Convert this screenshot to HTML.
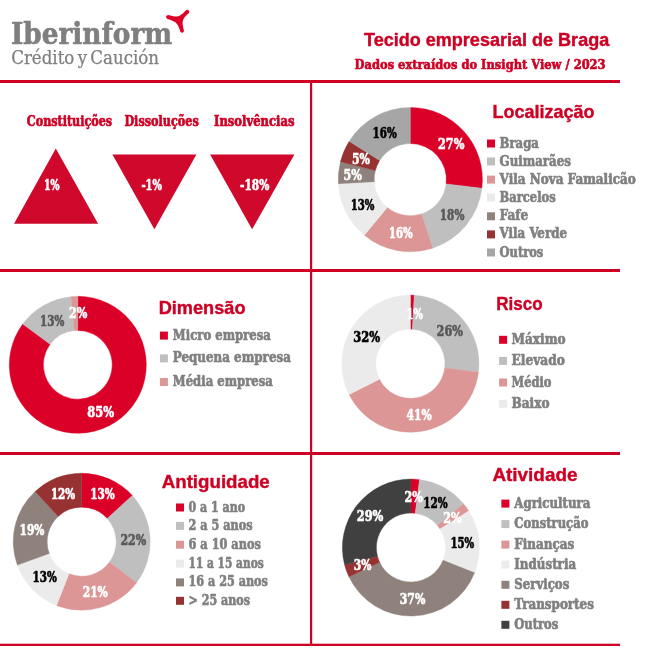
<!DOCTYPE html>
<html lang="pt"><head><meta charset="utf-8"><title>Tecido empresarial de Braga</title>
<style>html,body{margin:0;padding:0;background:#fff}svg{display:block}text{white-space:pre}</style></head>
<body><svg width="645" height="658" viewBox="0 0 645 658">
<rect width="645" height="658" fill="#fff"/>
<rect x="0" y="80" width="620" height="3" fill="#ce0024"/>
<rect x="0" y="269" width="620" height="3" fill="#ce0024"/>
<rect x="0" y="452" width="620" height="3" fill="#ce0024"/>
<rect x="0" y="643.7" width="620" height="2.3" fill="#ce0024"/>
<rect x="310" y="80" width="2.2" height="565" fill="#ce0024"/>
<text x="10.9" y="44.2" font-family="'DejaVu Serif Condensed', 'DejaVu Serif', 'Liberation Serif', serif" font-weight="700" font-size="30" fill="#7f7f7f" textLength="161.3" lengthAdjust="spacingAndGlyphs" stroke="#7f7f7f" stroke-width="0.6" stroke-linejoin="round">Iberinform</text>
<text x="11.2" y="64.4" font-family="'DejaVu Serif Condensed', 'DejaVu Serif', 'Liberation Serif', serif" font-weight="400" font-size="18.6" fill="#7f7f7f" textLength="147.9" lengthAdjust="spacingAndGlyphs" word-spacing="-2" stroke="#7f7f7f" stroke-width="0.25" stroke-linejoin="round">Crédito y Caución</text>
<path d="M185.81 10.46C185.31 10.95 183.83 12.61 182.83 13.43C181.84 14.26 180.85 14.90 179.86 15.42C178.87 15.93 177.96 16.38 176.88 16.51C175.81 16.63 174.86 16.43 173.41 16.16C171.96 15.90 169.07 15.13 168.20 14.92A2.05 2.05 0 0 0 167.46 18.89C168.20 19.14 170.60 19.80 171.92 20.38C173.24 20.96 174.40 21.53 175.39 22.36C176.38 23.19 177.21 24.26 177.87 25.34C178.53 26.41 178.96 27.78 179.36 28.81C179.76 29.84 180.11 31.08 180.25 31.54A1.95 1.95 0 0 0 183.97 30.79C183.83 30.13 183.31 28.07 183.08 26.83C182.85 25.59 182.59 24.51 182.59 23.35C182.59 22.20 182.71 20.96 183.08 19.88C183.45 18.81 184.11 17.81 184.82 16.90C185.52 16.00 186.59 15.09 187.30 14.42C188.00 13.76 188.74 13.18 189.03 12.94A2.05 2.05 0 0 0 185.81 10.46Z" fill="#df0029"/>
<text x="364.0" y="45.6" font-family="'Liberation Sans', sans-serif" font-weight="700" font-size="18.3" fill="#ce0024" textLength="245.2" lengthAdjust="spacingAndGlyphs" stroke="#ce0024" stroke-width="0.4" stroke-linejoin="round">Tecido empresarial de Braga</text>
<text x="354.6" y="68.8" font-family="'DejaVu Serif Condensed', 'DejaVu Serif', 'Liberation Serif', serif" font-weight="700" font-size="13.6" fill="#ce0024" textLength="251.0" lengthAdjust="spacingAndGlyphs" stroke="#ce0024" stroke-width="0.6" stroke-linejoin="round">Dados extraídos do Insight View / 2023</text>
<text x="26.8" y="125.5" font-family="'DejaVu Serif Condensed', 'DejaVu Serif', 'Liberation Serif', serif" font-weight="700" font-size="14" fill="#ce0024" textLength="85.3" lengthAdjust="spacingAndGlyphs" stroke="#ce0024" stroke-width="0.6" stroke-linejoin="round">Constituições</text>
<text x="124.4" y="125.5" font-family="'DejaVu Serif Condensed', 'DejaVu Serif', 'Liberation Serif', serif" font-weight="700" font-size="14" fill="#ce0024" textLength="74.3" lengthAdjust="spacingAndGlyphs" stroke="#ce0024" stroke-width="0.6" stroke-linejoin="round">Dissoluções</text>
<text x="214.0" y="125.5" font-family="'DejaVu Serif Condensed', 'DejaVu Serif', 'Liberation Serif', serif" font-weight="700" font-size="14" fill="#ce0024" textLength="80.4" lengthAdjust="spacingAndGlyphs" stroke="#ce0024" stroke-width="0.6" stroke-linejoin="round">Insolvências</text>
<path d="M55.8 148.4L98.1 223.8L14.0 223.8Z" fill="#cf082c"/>
<path d="M112.4 154.4L196.4 154.4L154.4 229.3Z" fill="#cf082c"/>
<path d="M210.1 154.4L294.4 154.4L252.1 229.3Z" fill="#cf082c"/>
<text x="43.9" y="189.7" font-family="'DejaVu Serif Condensed', 'DejaVu Serif', 'Liberation Serif', serif" font-weight="700" font-size="14.2" fill="#fff" textLength="15.6" lengthAdjust="spacingAndGlyphs" stroke="#fff" stroke-width="0.6" stroke-linejoin="round">1%</text>
<text x="141.4" y="189.6" font-family="'DejaVu Serif Condensed', 'DejaVu Serif', 'Liberation Serif', serif" font-weight="700" font-size="14.2" fill="#fff" textLength="20.5" lengthAdjust="spacingAndGlyphs" stroke="#fff" stroke-width="0.6" stroke-linejoin="round">-1%</text>
<text x="240.0" y="189.6" font-family="'DejaVu Serif Condensed', 'DejaVu Serif', 'Liberation Serif', serif" font-weight="700" font-size="14.2" fill="#fff" textLength="29.3" lengthAdjust="spacingAndGlyphs" stroke="#fff" stroke-width="0.6" stroke-linejoin="round">-18%</text>
<path d="M410.30 107.50A72.1 72.1 0 0 1 481.89 188.19L446.14 183.90A36.1 36.1 0 0 0 410.30 143.50Z" fill="#da0028" stroke="#da0028" stroke-width="0.4"/>
<path d="M481.89 188.19A72.1 72.1 0 0 1 432.58 248.17L421.46 213.93A36.1 36.1 0 0 0 446.14 183.90Z" fill="#bfbfbf" stroke="#bfbfbf" stroke-width="0.4"/>
<path d="M432.58 248.17A72.1 72.1 0 0 1 364.34 235.15L387.29 207.42A36.1 36.1 0 0 0 421.46 213.93Z" fill="#dc9696" stroke="#dc9696" stroke-width="0.4"/>
<path d="M364.34 235.15A72.1 72.1 0 0 1 338.32 183.67L374.26 181.64A36.1 36.1 0 0 0 387.29 207.42Z" fill="#ebebeb" stroke="#ebebeb" stroke-width="0.4"/>
<path d="M338.32 183.67A72.1 72.1 0 0 1 340.47 161.67L375.33 170.62A36.1 36.1 0 0 0 374.26 181.64Z" fill="#8f817b" stroke="#8f817b" stroke-width="0.4"/>
<path d="M340.47 161.67A72.1 72.1 0 0 1 349.18 141.35L379.70 160.45A36.1 36.1 0 0 0 375.33 170.62Z" fill="#963232" stroke="#963232" stroke-width="0.4"/>
<path d="M349.18 141.35A72.1 72.1 0 0 1 410.30 107.50L410.30 143.50A36.1 36.1 0 0 0 379.70 160.45Z" fill="#a6a6a6" stroke="#a6a6a6" stroke-width="0.4"/>
<text x="438.0" y="148.5" font-family="'DejaVu Serif Condensed', 'DejaVu Serif', 'Liberation Serif', serif" font-weight="700" font-size="14.2" fill="#fff" textLength="26.4" lengthAdjust="spacingAndGlyphs" stroke="#fff" stroke-width="0.6" stroke-linejoin="round">27%</text>
<text x="439.8" y="219.8" font-family="'DejaVu Serif Condensed', 'DejaVu Serif', 'Liberation Serif', serif" font-weight="700" font-size="14.2" fill="#595959" textLength="24.6" lengthAdjust="spacingAndGlyphs" stroke="#595959" stroke-width="0.6" stroke-linejoin="round">18%</text>
<text x="388.9" y="237.9" font-family="'DejaVu Serif Condensed', 'DejaVu Serif', 'Liberation Serif', serif" font-weight="700" font-size="14.2" fill="#fff" textLength="23.8" lengthAdjust="spacingAndGlyphs" stroke="#fff" stroke-width="0.6" stroke-linejoin="round">16%</text>
<text x="350.7" y="209.5" font-family="'DejaVu Serif Condensed', 'DejaVu Serif', 'Liberation Serif', serif" font-weight="700" font-size="14.2" fill="#000" textLength="23.7" lengthAdjust="spacingAndGlyphs" stroke="#000" stroke-width="0.6" stroke-linejoin="round">13%</text>
<text x="343.4" y="179.8" font-family="'DejaVu Serif Condensed', 'DejaVu Serif', 'Liberation Serif', serif" font-weight="700" font-size="14.2" fill="#fff" textLength="18.4" lengthAdjust="spacingAndGlyphs" stroke="#fff" stroke-width="0.6" stroke-linejoin="round">5%</text>
<text x="352.0" y="163.7" font-family="'DejaVu Serif Condensed', 'DejaVu Serif', 'Liberation Serif', serif" font-weight="700" font-size="14.2" fill="#fff" textLength="18.0" lengthAdjust="spacingAndGlyphs" stroke="#fff" stroke-width="0.6" stroke-linejoin="round">5%</text>
<text x="372.6" y="137.6" font-family="'DejaVu Serif Condensed', 'DejaVu Serif', 'Liberation Serif', serif" font-weight="700" font-size="14.2" fill="#000" textLength="24.1" lengthAdjust="spacingAndGlyphs" stroke="#000" stroke-width="0.6" stroke-linejoin="round">16%</text>
<text x="492.4" y="117.5" font-family="'Liberation Sans', sans-serif" font-weight="700" font-size="19" fill="#ce0024" textLength="102.1" lengthAdjust="spacingAndGlyphs" stroke="#ce0024" stroke-width="0.4" stroke-linejoin="round">Localização</text>
<rect x="487.0" y="139.5" width="8" height="8" fill="#da0028"/>
<text x="499.6" y="147.5" font-family="'DejaVu Serif Condensed', 'DejaVu Serif', 'Liberation Serif', serif" font-weight="700" font-size="13.9" fill="#808080" textLength="39.3" lengthAdjust="spacingAndGlyphs" stroke="#808080" stroke-width="0.6" stroke-linejoin="round">Braga</text>
<rect x="487.0" y="157.5" width="8" height="8" fill="#bfbfbf"/>
<text x="499.6" y="165.5" font-family="'DejaVu Serif Condensed', 'DejaVu Serif', 'Liberation Serif', serif" font-weight="700" font-size="13.9" fill="#808080" textLength="71.3" lengthAdjust="spacingAndGlyphs" stroke="#808080" stroke-width="0.6" stroke-linejoin="round">Guimarães</text>
<rect x="487.0" y="175.6" width="8" height="8" fill="#dc9696"/>
<text x="499.6" y="183.6" font-family="'DejaVu Serif Condensed', 'DejaVu Serif', 'Liberation Serif', serif" font-weight="700" font-size="13.9" fill="#808080" textLength="136.2" lengthAdjust="spacingAndGlyphs" stroke="#808080" stroke-width="0.6" stroke-linejoin="round">Vila Nova Famalicão</text>
<rect x="487.0" y="193.5" width="8" height="8" fill="#ebebeb"/>
<text x="499.6" y="201.5" font-family="'DejaVu Serif Condensed', 'DejaVu Serif', 'Liberation Serif', serif" font-weight="700" font-size="13.9" fill="#808080" textLength="56.1" lengthAdjust="spacingAndGlyphs" stroke="#808080" stroke-width="0.6" stroke-linejoin="round">Barcelos</text>
<rect x="487.0" y="212.3" width="8" height="8" fill="#8f817b"/>
<text x="499.6" y="220.3" font-family="'DejaVu Serif Condensed', 'DejaVu Serif', 'Liberation Serif', serif" font-weight="700" font-size="13.9" fill="#808080" textLength="28.7" lengthAdjust="spacingAndGlyphs" stroke="#808080" stroke-width="0.6" stroke-linejoin="round">Fafe</text>
<rect x="487.0" y="230.4" width="8" height="8" fill="#963232"/>
<text x="499.6" y="238.4" font-family="'DejaVu Serif Condensed', 'DejaVu Serif', 'Liberation Serif', serif" font-weight="700" font-size="13.9" fill="#808080" textLength="67.4" lengthAdjust="spacingAndGlyphs" stroke="#808080" stroke-width="0.6" stroke-linejoin="round">Vila Verde</text>
<rect x="487.0" y="248.5" width="8" height="8" fill="#a6a6a6"/>
<text x="499.6" y="256.5" font-family="'DejaVu Serif Condensed', 'DejaVu Serif', 'Liberation Serif', serif" font-weight="700" font-size="13.9" fill="#808080" textLength="43.7" lengthAdjust="spacingAndGlyphs" stroke="#808080" stroke-width="0.6" stroke-linejoin="round">Outros</text>
<path d="M77.80 296.30A68.5 68.5 0 1 1 22.74 324.05L50.15 344.34A34.4 34.4 0 1 0 77.80 330.40Z" fill="#da0028" stroke="#da0028" stroke-width="0.4"/>
<path d="M22.74 324.05A68.5 68.5 0 0 1 71.10 296.63L74.43 330.57A34.4 34.4 0 0 0 50.15 344.34Z" fill="#bfbfbf" stroke="#bfbfbf" stroke-width="0.4"/>
<path d="M71.10 296.63A68.5 68.5 0 0 1 77.80 296.30L77.80 330.40A34.4 34.4 0 0 0 74.43 330.57Z" fill="#dc9696" stroke="#dc9696" stroke-width="0.4"/>
<text x="87.3" y="416.7" font-family="'DejaVu Serif Condensed', 'DejaVu Serif', 'Liberation Serif', serif" font-weight="700" font-size="14.2" fill="#fff" textLength="26.8" lengthAdjust="spacingAndGlyphs" stroke="#fff" stroke-width="0.6" stroke-linejoin="round">85%</text>
<text x="40.1" y="325.6" font-family="'DejaVu Serif Condensed', 'DejaVu Serif', 'Liberation Serif', serif" font-weight="700" font-size="14.2" fill="#595959" textLength="24.3" lengthAdjust="spacingAndGlyphs" stroke="#595959" stroke-width="0.6" stroke-linejoin="round">13%</text>
<text x="69.0" y="317.6" font-family="'DejaVu Serif Condensed', 'DejaVu Serif', 'Liberation Serif', serif" font-weight="700" font-size="14.2" fill="#fff" textLength="18.3" lengthAdjust="spacingAndGlyphs" stroke="#fff" stroke-width="0.6" stroke-linejoin="round">2%</text>
<text x="158.7" y="314.3" font-family="'Liberation Sans', sans-serif" font-weight="700" font-size="19" fill="#ce0024" textLength="86.8" lengthAdjust="spacingAndGlyphs" stroke="#ce0024" stroke-width="0.4" stroke-linejoin="round">Dimensão</text>
<rect x="159.9" y="331.6" width="8" height="8" fill="#da0028"/>
<text x="172.8" y="339.6" font-family="'DejaVu Serif Condensed', 'DejaVu Serif', 'Liberation Serif', serif" font-weight="700" font-size="13.9" fill="#808080" textLength="98.0" lengthAdjust="spacingAndGlyphs" stroke="#808080" stroke-width="0.6" stroke-linejoin="round">Micro empresa</text>
<rect x="159.9" y="354.4" width="8" height="8" fill="#bfbfbf"/>
<text x="172.8" y="362.4" font-family="'DejaVu Serif Condensed', 'DejaVu Serif', 'Liberation Serif', serif" font-weight="700" font-size="13.9" fill="#808080" textLength="118.1" lengthAdjust="spacingAndGlyphs" stroke="#808080" stroke-width="0.6" stroke-linejoin="round">Pequena empresa</text>
<rect x="159.9" y="378.0" width="8" height="8" fill="#dc9696"/>
<text x="172.8" y="386.0" font-family="'DejaVu Serif Condensed', 'DejaVu Serif', 'Liberation Serif', serif" font-weight="700" font-size="13.9" fill="#808080" textLength="100.0" lengthAdjust="spacingAndGlyphs" stroke="#808080" stroke-width="0.6" stroke-linejoin="round">Média empresa</text>
<path d="M410.40 295.10A68.6 68.6 0 0 1 414.28 295.21L412.36 329.16A34.6 34.6 0 0 0 410.40 329.10Z" fill="#da0028" stroke="#da0028" stroke-width="0.4"/>
<path d="M414.28 295.21A68.6 68.6 0 0 1 478.46 372.30L444.73 368.04A34.6 34.6 0 0 0 412.36 329.16Z" fill="#bfbfbf" stroke="#bfbfbf" stroke-width="0.4"/>
<path d="M478.46 372.30A68.6 68.6 0 0 1 349.08 394.46L379.47 379.21A34.6 34.6 0 0 0 444.73 368.04Z" fill="#dc9696" stroke="#dc9696" stroke-width="0.4"/>
<path d="M349.08 394.46A68.6 68.6 0 0 1 410.40 295.10L410.40 329.10A34.6 34.6 0 0 0 379.47 379.21Z" fill="#ebebeb" stroke="#ebebeb" stroke-width="0.4"/>
<text x="406.5" y="318.9" font-family="'DejaVu Serif Condensed', 'DejaVu Serif', 'Liberation Serif', serif" font-weight="700" font-size="14.2" fill="#fff" textLength="16.3" lengthAdjust="spacingAndGlyphs" stroke="#fff" stroke-width="0.6" stroke-linejoin="round">1%</text>
<text x="436.6" y="335.7" font-family="'DejaVu Serif Condensed', 'DejaVu Serif', 'Liberation Serif', serif" font-weight="700" font-size="14.2" fill="#595959" textLength="26.3" lengthAdjust="spacingAndGlyphs" stroke="#595959" stroke-width="0.6" stroke-linejoin="round">26%</text>
<text x="406.5" y="419.7" font-family="'DejaVu Serif Condensed', 'DejaVu Serif', 'Liberation Serif', serif" font-weight="700" font-size="14.2" fill="#fff" textLength="25.1" lengthAdjust="spacingAndGlyphs" stroke="#fff" stroke-width="0.6" stroke-linejoin="round">41%</text>
<text x="353.3" y="341.7" font-family="'DejaVu Serif Condensed', 'DejaVu Serif', 'Liberation Serif', serif" font-weight="700" font-size="14.2" fill="#000" textLength="26.9" lengthAdjust="spacingAndGlyphs" stroke="#000" stroke-width="0.6" stroke-linejoin="round">32%</text>
<text x="496.2" y="310.3" font-family="'Liberation Sans', sans-serif" font-weight="700" font-size="19" fill="#ce0024" textLength="46.4" lengthAdjust="spacingAndGlyphs" stroke="#ce0024" stroke-width="0.4" stroke-linejoin="round">Risco</text>
<rect x="499.1" y="335.8" width="8" height="8" fill="#da0028"/>
<text x="511.5" y="343.8" font-family="'DejaVu Serif Condensed', 'DejaVu Serif', 'Liberation Serif', serif" font-weight="700" font-size="13.9" fill="#808080" textLength="54.1" lengthAdjust="spacingAndGlyphs" stroke="#808080" stroke-width="0.6" stroke-linejoin="round">Máximo</text>
<rect x="499.1" y="356.9" width="8" height="8" fill="#bfbfbf"/>
<text x="511.5" y="364.9" font-family="'DejaVu Serif Condensed', 'DejaVu Serif', 'Liberation Serif', serif" font-weight="700" font-size="13.9" fill="#808080" textLength="53.3" lengthAdjust="spacingAndGlyphs" stroke="#808080" stroke-width="0.6" stroke-linejoin="round">Elevado</text>
<rect x="499.1" y="378.5" width="8" height="8" fill="#dc9696"/>
<text x="511.5" y="386.5" font-family="'DejaVu Serif Condensed', 'DejaVu Serif', 'Liberation Serif', serif" font-weight="700" font-size="13.9" fill="#808080" textLength="39.9" lengthAdjust="spacingAndGlyphs" stroke="#808080" stroke-width="0.6" stroke-linejoin="round">Médio</text>
<rect x="499.1" y="399.8" width="8" height="8" fill="#ebebeb"/>
<text x="511.5" y="407.8" font-family="'DejaVu Serif Condensed', 'DejaVu Serif', 'Liberation Serif', serif" font-weight="700" font-size="13.9" fill="#808080" textLength="38.0" lengthAdjust="spacingAndGlyphs" stroke="#808080" stroke-width="0.6" stroke-linejoin="round">Baixo</text>
<path d="M81.70 473.20A68.5 68.5 0 0 1 132.36 495.60L107.22 518.48A34.5 34.5 0 0 0 81.70 507.20Z" fill="#da0028" stroke="#da0028" stroke-width="0.4"/>
<path d="M132.36 495.60A68.5 68.5 0 0 1 136.61 582.66L109.35 562.33A34.5 34.5 0 0 0 107.22 518.48Z" fill="#bfbfbf" stroke="#bfbfbf" stroke-width="0.4"/>
<path d="M136.61 582.66A68.5 68.5 0 0 1 56.48 605.39L69.00 573.78A34.5 34.5 0 0 0 109.35 562.33Z" fill="#dc9696" stroke="#dc9696" stroke-width="0.4"/>
<path d="M56.48 605.39A68.5 68.5 0 0 1 17.32 565.11L49.28 553.49A34.5 34.5 0 0 0 69.00 573.78Z" fill="#ebebeb" stroke="#ebebeb" stroke-width="0.4"/>
<path d="M17.32 565.11A68.5 68.5 0 0 1 35.12 491.47L58.24 516.40A34.5 34.5 0 0 0 49.28 553.49Z" fill="#8f817b" stroke="#8f817b" stroke-width="0.4"/>
<path d="M35.12 491.47A68.5 68.5 0 0 1 81.70 473.20L81.70 507.20A34.5 34.5 0 0 0 58.24 516.40Z" fill="#963232" stroke="#963232" stroke-width="0.4"/>
<text x="90.3" y="499.4" font-family="'DejaVu Serif Condensed', 'DejaVu Serif', 'Liberation Serif', serif" font-weight="700" font-size="14.2" fill="#fff" textLength="24.5" lengthAdjust="spacingAndGlyphs" stroke="#fff" stroke-width="0.6" stroke-linejoin="round">13%</text>
<text x="120.4" y="544.8" font-family="'DejaVu Serif Condensed', 'DejaVu Serif', 'Liberation Serif', serif" font-weight="700" font-size="14.2" fill="#595959" textLength="25.8" lengthAdjust="spacingAndGlyphs" stroke="#595959" stroke-width="0.6" stroke-linejoin="round">22%</text>
<text x="82.7" y="596.7" font-family="'DejaVu Serif Condensed', 'DejaVu Serif', 'Liberation Serif', serif" font-weight="700" font-size="14.2" fill="#fff" textLength="25.1" lengthAdjust="spacingAndGlyphs" stroke="#fff" stroke-width="0.6" stroke-linejoin="round">21%</text>
<text x="32.6" y="582.4" font-family="'DejaVu Serif Condensed', 'DejaVu Serif', 'Liberation Serif', serif" font-weight="700" font-size="14.2" fill="#000" textLength="24.3" lengthAdjust="spacingAndGlyphs" stroke="#000" stroke-width="0.6" stroke-linejoin="round">13%</text>
<text x="19.6" y="534.5" font-family="'DejaVu Serif Condensed', 'DejaVu Serif', 'Liberation Serif', serif" font-weight="700" font-size="14.2" fill="#fff" textLength="24.8" lengthAdjust="spacingAndGlyphs" stroke="#fff" stroke-width="0.6" stroke-linejoin="round">19%</text>
<text x="50.9" y="498.9" font-family="'DejaVu Serif Condensed', 'DejaVu Serif', 'Liberation Serif', serif" font-weight="700" font-size="14.2" fill="#fff" textLength="24.3" lengthAdjust="spacingAndGlyphs" stroke="#fff" stroke-width="0.6" stroke-linejoin="round">12%</text>
<text x="161.7" y="488.3" font-family="'Liberation Sans', sans-serif" font-weight="700" font-size="19" fill="#ce0024" textLength="108.1" lengthAdjust="spacingAndGlyphs" stroke="#ce0024" stroke-width="0.4" stroke-linejoin="round">Antiguidade</text>
<rect x="176.0" y="503.5" width="8" height="8" fill="#da0028"/>
<text x="188.5" y="511.5" font-family="'DejaVu Serif Condensed', 'DejaVu Serif', 'Liberation Serif', serif" font-weight="700" font-size="13.9" fill="#808080" textLength="56.6" lengthAdjust="spacingAndGlyphs" stroke="#808080" stroke-width="0.6" stroke-linejoin="round">0 a 1 ano</text>
<rect x="176.0" y="521.9" width="8" height="8" fill="#bfbfbf"/>
<text x="188.5" y="529.9" font-family="'DejaVu Serif Condensed', 'DejaVu Serif', 'Liberation Serif', serif" font-weight="700" font-size="13.9" fill="#808080" textLength="64.0" lengthAdjust="spacingAndGlyphs" stroke="#808080" stroke-width="0.6" stroke-linejoin="round">2 a 5 anos</text>
<rect x="176.0" y="540.7" width="8" height="8" fill="#dc9696"/>
<text x="188.5" y="548.7" font-family="'DejaVu Serif Condensed', 'DejaVu Serif', 'Liberation Serif', serif" font-weight="700" font-size="13.9" fill="#808080" textLength="72.4" lengthAdjust="spacingAndGlyphs" stroke="#808080" stroke-width="0.6" stroke-linejoin="round">6 a 10 anos</text>
<rect x="176.0" y="559.6" width="8" height="8" fill="#ebebeb"/>
<text x="188.5" y="567.6" font-family="'DejaVu Serif Condensed', 'DejaVu Serif', 'Liberation Serif', serif" font-weight="700" font-size="13.9" fill="#808080" textLength="75.2" lengthAdjust="spacingAndGlyphs" stroke="#808080" stroke-width="0.6" stroke-linejoin="round">11 a 15 anos</text>
<rect x="176.0" y="578.4" width="8" height="8" fill="#8f817b"/>
<text x="188.5" y="586.4" font-family="'DejaVu Serif Condensed', 'DejaVu Serif', 'Liberation Serif', serif" font-weight="700" font-size="13.9" fill="#808080" textLength="79.4" lengthAdjust="spacingAndGlyphs" stroke="#808080" stroke-width="0.6" stroke-linejoin="round">16 a 25 anos</text>
<rect x="176.0" y="596.8" width="8" height="8" fill="#963232"/>
<text x="188.5" y="604.8" font-family="'DejaVu Serif Condensed', 'DejaVu Serif', 'Liberation Serif', serif" font-weight="700" font-size="13.9" fill="#808080" textLength="61.5" lengthAdjust="spacingAndGlyphs" stroke="#808080" stroke-width="0.6" stroke-linejoin="round">&gt; 25 anos</text>
<path d="M410.90 479.10A68.5 68.5 0 0 1 419.49 479.64L415.22 513.37A34.5 34.5 0 0 0 410.90 513.10Z" fill="#da0028" stroke="#da0028" stroke-width="0.4"/>
<path d="M419.49 479.64A68.5 68.5 0 0 1 463.68 503.94L437.48 525.61A34.5 34.5 0 0 0 415.22 513.37Z" fill="#bfbfbf" stroke="#bfbfbf" stroke-width="0.4"/>
<path d="M463.68 503.94A68.5 68.5 0 0 1 468.74 510.90L440.03 529.11A34.5 34.5 0 0 0 437.48 525.61Z" fill="#dc9696" stroke="#dc9696" stroke-width="0.4"/>
<path d="M468.74 510.90A68.5 68.5 0 0 1 474.59 572.82L442.98 560.30A34.5 34.5 0 0 0 440.03 529.11Z" fill="#ebebeb" stroke="#ebebeb" stroke-width="0.4"/>
<path d="M474.59 572.82A68.5 68.5 0 0 1 348.92 576.77L379.68 562.29A34.5 34.5 0 0 0 442.98 560.30Z" fill="#8f817b" stroke="#8f817b" stroke-width="0.4"/>
<path d="M348.92 576.77A68.5 68.5 0 0 1 344.55 564.64L377.48 556.18A34.5 34.5 0 0 0 379.68 562.29Z" fill="#963232" stroke="#963232" stroke-width="0.4"/>
<path d="M344.55 564.64A68.5 68.5 0 0 1 410.90 479.10L410.90 513.10A34.5 34.5 0 0 0 377.48 556.18Z" fill="#404040" stroke="#404040" stroke-width="0.4"/>
<text x="404.5" y="502.1" font-family="'DejaVu Serif Condensed', 'DejaVu Serif', 'Liberation Serif', serif" font-weight="700" font-size="14.2" fill="#fff" textLength="18.3" lengthAdjust="spacingAndGlyphs" stroke="#fff" stroke-width="0.6" stroke-linejoin="round">2%</text>
<text x="423.2" y="508.3" font-family="'DejaVu Serif Condensed', 'DejaVu Serif', 'Liberation Serif', serif" font-weight="700" font-size="14.2" fill="#000" textLength="24.4" lengthAdjust="spacingAndGlyphs" stroke="#000" stroke-width="0.6" stroke-linejoin="round">12%</text>
<text x="443.3" y="522.7" font-family="'DejaVu Serif Condensed', 'DejaVu Serif', 'Liberation Serif', serif" font-weight="700" font-size="14.2" fill="#fff" textLength="18.3" lengthAdjust="spacingAndGlyphs" stroke="#fff" stroke-width="0.6" stroke-linejoin="round">2%</text>
<text x="450.4" y="547.7" font-family="'DejaVu Serif Condensed', 'DejaVu Serif', 'Liberation Serif', serif" font-weight="700" font-size="14.2" fill="#000" textLength="23.8" lengthAdjust="spacingAndGlyphs" stroke="#000" stroke-width="0.6" stroke-linejoin="round">15%</text>
<text x="399.7" y="603.7" font-family="'DejaVu Serif Condensed', 'DejaVu Serif', 'Liberation Serif', serif" font-weight="700" font-size="14.2" fill="#fff" textLength="25.6" lengthAdjust="spacingAndGlyphs" stroke="#fff" stroke-width="0.6" stroke-linejoin="round">37%</text>
<text x="353.8" y="569.8" font-family="'DejaVu Serif Condensed', 'DejaVu Serif', 'Liberation Serif', serif" font-weight="700" font-size="14.2" fill="#fff" textLength="17.6" lengthAdjust="spacingAndGlyphs" stroke="#fff" stroke-width="0.6" stroke-linejoin="round">3%</text>
<text x="356.8" y="520.7" font-family="'DejaVu Serif Condensed', 'DejaVu Serif', 'Liberation Serif', serif" font-weight="700" font-size="14.2" fill="#fff" textLength="26.6" lengthAdjust="spacingAndGlyphs" stroke="#fff" stroke-width="0.6" stroke-linejoin="round">29%</text>
<text x="492.4" y="481.2" font-family="'Liberation Sans', sans-serif" font-weight="700" font-size="19" fill="#ce0024" textLength="85.1" lengthAdjust="spacingAndGlyphs" stroke="#ce0024" stroke-width="0.4" stroke-linejoin="round">Atividade</text>
<rect x="501.4" y="499.6" width="8" height="8" fill="#da0028"/>
<text x="514.3" y="507.6" font-family="'DejaVu Serif Condensed', 'DejaVu Serif', 'Liberation Serif', serif" font-weight="700" font-size="13.9" fill="#808080" textLength="76.0" lengthAdjust="spacingAndGlyphs" stroke="#808080" stroke-width="0.6" stroke-linejoin="round">Agricultura</text>
<rect x="501.4" y="520.1" width="8" height="8" fill="#bfbfbf"/>
<text x="514.3" y="528.1" font-family="'DejaVu Serif Condensed', 'DejaVu Serif', 'Liberation Serif', serif" font-weight="700" font-size="13.9" fill="#808080" textLength="74.1" lengthAdjust="spacingAndGlyphs" stroke="#808080" stroke-width="0.6" stroke-linejoin="round">Construção</text>
<rect x="501.4" y="540.6" width="8" height="8" fill="#dc9696"/>
<text x="514.3" y="548.6" font-family="'DejaVu Serif Condensed', 'DejaVu Serif', 'Liberation Serif', serif" font-weight="700" font-size="13.9" fill="#808080" textLength="59.9" lengthAdjust="spacingAndGlyphs" stroke="#808080" stroke-width="0.6" stroke-linejoin="round">Finanças</text>
<rect x="501.4" y="560.6" width="8" height="8" fill="#ebebeb"/>
<text x="514.3" y="568.6" font-family="'DejaVu Serif Condensed', 'DejaVu Serif', 'Liberation Serif', serif" font-weight="700" font-size="13.9" fill="#808080" textLength="61.8" lengthAdjust="spacingAndGlyphs" stroke="#808080" stroke-width="0.6" stroke-linejoin="round">Indústria</text>
<rect x="501.4" y="580.8" width="8" height="8" fill="#8f817b"/>
<text x="514.3" y="588.8" font-family="'DejaVu Serif Condensed', 'DejaVu Serif', 'Liberation Serif', serif" font-weight="700" font-size="13.9" fill="#808080" textLength="55.0" lengthAdjust="spacingAndGlyphs" stroke="#808080" stroke-width="0.6" stroke-linejoin="round">Serviços</text>
<rect x="501.4" y="600.8" width="8" height="8" fill="#963232"/>
<text x="514.3" y="608.8" font-family="'DejaVu Serif Condensed', 'DejaVu Serif', 'Liberation Serif', serif" font-weight="700" font-size="13.9" fill="#808080" textLength="79.6" lengthAdjust="spacingAndGlyphs" stroke="#808080" stroke-width="0.6" stroke-linejoin="round">Transportes</text>
<rect x="501.4" y="620.8" width="8" height="8" fill="#404040"/>
<text x="514.3" y="628.8" font-family="'DejaVu Serif Condensed', 'DejaVu Serif', 'Liberation Serif', serif" font-weight="700" font-size="13.9" fill="#808080" textLength="44.0" lengthAdjust="spacingAndGlyphs" stroke="#808080" stroke-width="0.6" stroke-linejoin="round">Outros</text>
</svg></body></html>
